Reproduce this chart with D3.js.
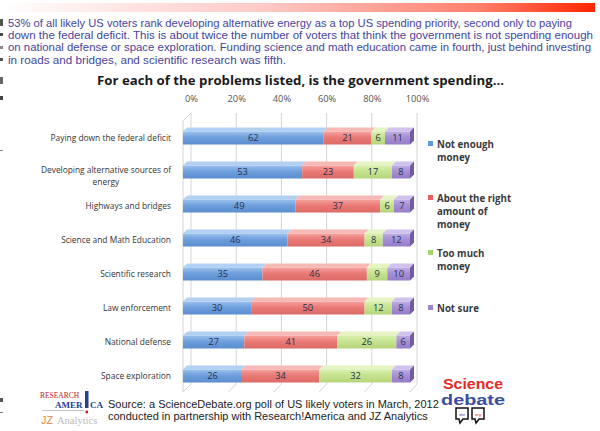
<!DOCTYPE html>
<html><head><meta charset="utf-8">
<script src="https://cdn.jsdelivr.net/npm/d3@7"></script>
<style>body{margin:0;background:#fff}svg{display:block}</style>
</head><body><svg id="c" width="600" height="431"></svg>
<script>
// ---------- data ----------
const categories = [
  "Paying down the federal deficit",
  "Developing alternative sources of energy",
  "Highways and bridges",
  "Science and Math Education",
  "Scientific research",
  "Law enforcement",
  "National defense",
  "Space exploration"
];
const notEnough  = [62, 53, 49, 46, 35, 30, 27, 26];
const aboutRight = [21, 23, 37, 34, 46, 50, 41, 34];
const tooMuch    = [6, 17, 6, 8, 9, 12, 26, 32];
const notSure    = [11, 8, 7, 12, 10, 8, 6, 8];
const seriesKeys = ["notEnough", "aboutRight", "tooMuch", "notSure"];
const legendLines = [
  ["Not enough", "money"],
  ["About the right", "amount of", "money"],
  ["Too much", "money"],
  ["Not sure"]
];
const tickValues = [0, 0.2, 0.4, 0.6, 0.8, 1];
const introLines = [
  "53% of all likely US voters rank developing alternative energy as a top US spending priority, second only to paying",
  "down the federal deficit.  This is about twice the number of voters that think the government is not spending enough",
  "on national defense or space exploration.  Funding science and math education came in fourth, just behind investing",
  "in roads and bridges, and scientific research was fifth."
];
const titleText = "For each of the problems listed, is the government spending...";
const sourceLines = [
  "Source: a ScienceDebate.org poll of US likely voters in March, 2012",
  "conducted in partnership with Research!America and JZ Analytics"
];

// ---------- setup ----------
const svg = d3.select("#c");
const defs = svg.append("defs");
svg.append("rect").attr("width", 600).attr("height", 431).attr("fill", "#fff");

// banner
const bg = defs.append("linearGradient").attr("id", "banner");
bg.append("stop").attr("offset", "0").attr("stop-color", "#ffffff");
bg.append("stop").attr("offset", "0.45").attr("stop-color", "#ffc8c4");
bg.append("stop").attr("offset", "0.8").attr("stop-color", "#ff806e");
bg.append("stop").attr("offset", "1").attr("stop-color", "#ff2600");
svg.append("rect").attr("x", 0).attr("y", 3).attr("width", 595).attr("height", 9).attr("fill", "url(#banner)");

// left margin marks
[[19, 7, "#555"], [33, 3, "#444"], [46, 3, "#888"], [58, 3, "#555"], [77, 7, "#666"], [96, 4, "#444"], [150, 1, "#888"], [398, 4, "#555"], [412, 1, "#777"]]
  .forEach(([y, h, c]) => svg.append("rect").attr("x", 0).attr("y", y).attr("width", 3).attr("height", h).attr("fill", c));

// intro paragraph
const introW = [564, 585, 583, 278];
svg.append("g").selectAll("text").data(introLines).join("text")
  .attr("x", 8).attr("y", (d, i) => 27 + i * 12.2)
  .attr("font-family", "'Liberation Sans', Arial, sans-serif")
  .attr("font-size", 11.3).attr("fill", "#45459a")
  .attr("textLength", (d, i) => introW[i]).attr("lengthAdjust", "spacingAndGlyphs")
  .text(d => d);

// title
svg.append("text").attr("x", 97).attr("y", 85)
  .attr("font-family", "'Open Sans', 'Liberation Sans', sans-serif")
  .attr("font-weight", "bold").attr("font-size", 12.5).attr("fill", "#1a1a1a")
  .attr("textLength", 407).attr("lengthAdjust", "spacingAndGlyphs")
  .text(titleText);

// ---------- chart ----------
const table = categories.map((c, i) => ({
  cat: c, notEnough: notEnough[i], aboutRight: aboutRight[i], tooMuch: tooMuch[i], notSure: notSure[i]
}));
const stack = d3.stack().keys(seriesKeys).offset(d3.stackOffsetExpand);
const stacked = stack(table);

const xF = d3.scaleLinear().domain([0, 1]).range([183, 410]);   // front plane
const xB = d3.scaleLinear().domain([0, 1]).range([191, 417]);   // back wall
const y = d3.scaleBand().domain(categories).range([121, 393]).paddingInner(0.6176).paddingOuter(0.3088);
const bw = y.bandwidth();
const dx = 4, dy = 4;
const wallTop = 113, wallBottom = 384, floorFront = 392;

// gridlines / walls
const grid = svg.append("g").attr("stroke", "#d4d4d4").attr("fill", "none").attr("stroke-width", 1);
tickValues.forEach(v => {
  grid.append("path").attr("d", `M${xB(v)},${wallTop}V${wallBottom}L${xF(v)},${floorFront}`);
});
grid.append("path").attr("d", `M${xF(0)},${wallTop + 8}L${xB(0)},${wallTop}`);
grid.append("path").attr("d", `M${xF(0)},${wallTop + 8}V${floorFront}`);

// top axis
const axis = svg.append("g").attr("transform", `translate(0,${wallTop - 8})`)
  .call(d3.axisTop(xB).tickValues(tickValues).tickFormat(d3.format(".0%")).tickSize(0));
axis.select(".domain").remove();
axis.selectAll("text").attr("font-family", "'Open Sans', 'Liberation Sans', sans-serif")
  .attr("font-size", 9.3).attr("fill", "#555").attr("dy", 0);

// series colours
const pal = {
  notEnough:  { top: "#b3d0f2", f0: "#9cc2ee", f1: "#6e9fdc", f2: "#5b8ccf", side: "#4e77b4", leg: "#5b9bd5" },
  aboutRight: { top: "#f7b9b6", f0: "#f5a29e", f1: "#ea7a76", f2: "#dc6a66", side: "#b9514d", leg: "#e8625e" },
  tooMuch:    { top: "#e6f4c4", f0: "#d9efb0", f1: "#c6e490", f2: "#b5d57a", side: "#94b45c", leg: "#a9d36c" },
  notSure:    { top: "#d0c2ec", f0: "#bfaee4", f1: "#a690d4", f2: "#957cc8", side: "#715aa6", leg: "#9d85cf" }
};
seriesKeys.forEach(k => {
  const g = defs.append("linearGradient").attr("id", "g_" + k).attr("x1", 0).attr("y1", 0).attr("x2", 0).attr("y2", 1);
  g.append("stop").attr("offset", "0").attr("stop-color", pal[k].f0);
  g.append("stop").attr("offset", "0.45").attr("stop-color", pal[k].f1);
  g.append("stop").attr("offset", "1").attr("stop-color", pal[k].f2);
});

const bars = svg.append("g");
stacked.forEach((s, si) => {
  const k = s.key;
  const g = bars.append("g");
  s.forEach((d, i) => {
    const cat = categories[i];
    const x0 = xF(d[0]), x1 = xF(d[1]), yt = y(cat);
    g.append("polygon")
      .attr("points", `${x0},${yt} ${x1},${yt} ${x1 + dx},${yt - dy} ${x0 + dx},${yt - dy}`)
      .attr("fill", pal[k].top);
    g.append("rect").attr("x", x0).attr("y", yt).attr("width", x1 - x0).attr("height", bw)
      .attr("fill", `url(#g_${k})`);
    if (si === seriesKeys.length - 1) {
      g.append("polygon")
        .attr("points", `${x1},${yt} ${x1 + dx},${yt - dy} ${x1 + dx},${yt + bw - dy} ${x1},${yt + bw}`)
        .attr("fill", pal[k].side);
    }
    const val = table[i][k];
    g.append("text").attr("x", (x0 + x1) / 2).attr("y", yt + bw / 2 + 3.4)
      .attr("text-anchor", "middle")
      .attr("font-family", "'Open Sans', 'Liberation Sans', sans-serif")
      .attr("font-size", 9.3).attr("fill", "#26324a").text(val);
  });
});

// category labels
const catG = svg.append("g").attr("font-family", "'Open Sans', 'Liberation Sans', sans-serif")
  .attr("font-size", 8.4).attr("fill", "#333");
categories.forEach(c => {
  const cy = y(c) + bw / 2;
  if (c.startsWith("Developing")) {
    const t1 = catG.append("text").attr("x", 171).attr("y", cy + 1).attr("text-anchor", "end").text("Developing alternative sources of");
    const w = t1.node().getComputedTextLength();
    catG.append("text").attr("x", 171 - w / 2).attr("y", cy + 12.5).attr("text-anchor", "middle").text("energy");
  } else {
    catG.append("text").attr("x", 171).attr("y", cy + 3.1).attr("text-anchor", "end").text(c);
  }
});

// legend
const legY = [144, 198, 253, 308];
const legG = svg.append("g").attr("font-family", "'Open Sans', 'Liberation Sans', sans-serif")
  .attr("font-size", 9.7).attr("font-weight", "bold").attr("fill", "#3a3a3a");
seriesKeys.forEach((k, i) => {
  legG.append("rect").attr("x", 428).attr("y", legY[i] - 3).attr("width", 5).attr("height", 5).attr("fill", pal[k].leg);
  legendLines[i].forEach((ln, j) => {
    legG.append("text").attr("x", 437).attr("y", legY[i] + 3.5 + j * 13.2).text(ln);
  });
});

// source
svg.append("g").selectAll("text").data(sourceLines).join("text")
  .attr("x", 108).attr("y", (d, i) => 408 + i * 12)
  .attr("font-family", "'Liberation Sans', Arial, sans-serif")
  .attr("font-size", 11).attr("fill", "#222")
  .text(d => d);

// Research!America logo
const ra = svg.append("g").attr("font-family", "'Liberation Serif', 'Times New Roman', serif");
ra.append("text").attr("x", 40).attr("y", 398).attr("font-size", 7.5).attr("fill", "#c0182c").text("RESEARCH");
ra.append("text").attr("x", 55).attr("y", 408).attr("font-size", 9).attr("font-weight", "bold").attr("fill", "#24408e").text("AMER");
ra.append("rect").attr("x", 85).attr("y", 391).attr("width", 3.5).attr("height", 17).attr("fill", "#24408e");
ra.append("circle").attr("cx", 86.8).attr("cy", 412).attr("r", 1.4).attr("fill", "#c0182c");
ra.append("text").attr("x", 90).attr("y", 408).attr("font-size", 9).attr("font-weight", "bold").attr("fill", "#24408e").text("CA");
ra.append("line").attr("x1", 42).attr("x2", 84).attr("y1", 410.5).attr("y2", 410.5).attr("stroke", "#c4c4c4").attr("stroke-width", 1);
ra.append("text").attr("x", 41).attr("y", 424).attr("font-family", "'Liberation Sans', Arial, sans-serif")
  .attr("font-size", 11).attr("fill", "#ef8a3d").text("JZ");
ra.append("text").attr("x", 57).attr("y", 424).attr("font-size", 10.5).attr("fill", "#b9b9b9").text("Analytics");

// ScienceDebate logo
const sd = svg.append("g").attr("font-family", "'Liberation Sans', Arial, sans-serif").attr("font-weight", "bold");
sd.append("text").attr("x", 443).attr("y", 389).attr("font-size", 15).attr("fill", "#e52a2a")
  .attr("textLength", 60).attr("lengthAdjust", "spacingAndGlyphs").text("Science");
sd.append("text").attr("x", 441).attr("y", 405).attr("font-size", 15).attr("fill", "#3b4ea0")
  .attr("textLength", 64).attr("lengthAdjust", "spacingAndGlyphs").text("debate");
[[456, "dot", "#3b4ea0"], [472, "org", "#e52a2a"]].forEach(([bx, t, c]) => {
  sd.append("path").attr("d", `M${bx},408h12v11h-5l-3,4l-1,-4h-3z`).attr("fill", "#fff").attr("stroke", "#111").attr("stroke-width", 1.5);
  sd.append("text").attr("x", bx + 6).attr("y", 415.5).attr("text-anchor", "middle").attr("font-size", 4).attr("font-weight", "normal").attr("fill", c).text(t);
});
</script></body></html>
